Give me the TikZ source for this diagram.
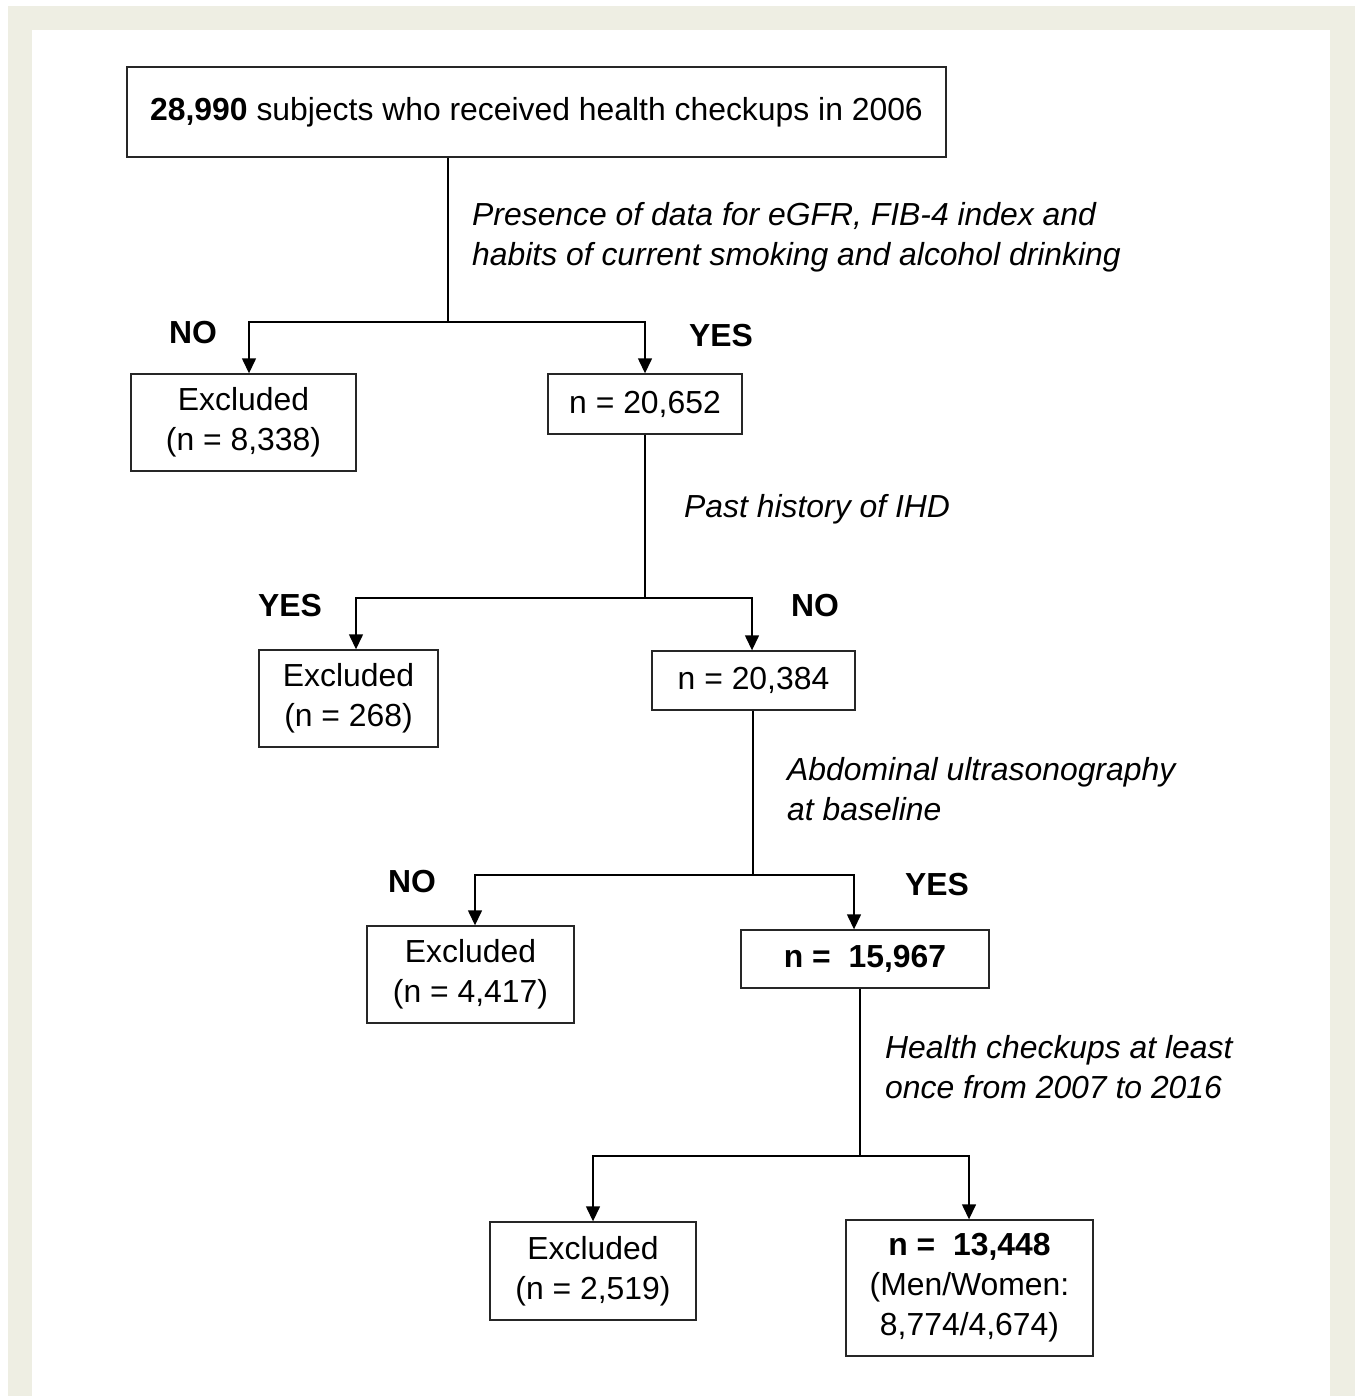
\documentclass[tikz,border=0pt]{standalone}
\usepackage{fontspec}
\setmainfont{Liberation Sans}
\usetikzlibrary{arrows.meta,positioning}
\definecolor{framebeige}{RGB}{238,238,227}
\tikzset{
  box/.style={draw=black!85,line width=1.4bp,align=center,inner sep=0pt},
  flow/.style={line width=1.4bp},
  arrow/.style={flow,-{Triangle[length=15bp,width=14bp]}},
  cond/.style={anchor=west,align=left,inner sep=0pt,font=\itshape},
  answer/.style={inner sep=0pt,font=\bfseries},
}
\begin{document}
\fontsize{32}{40}\selectfont
\begin{tikzpicture}[x=1bp,y=-1bp,line join=miter]
\useasboundingbox (0,0) rectangle (1357,1396);
\fill[framebeige] (8,6) rectangle (1355,1396);
\fill[white] (32,30) rectangle (1330,1396);
%% boxes
\node (all) at (536.5,112) [box,minimum width=819bp,minimum height=90bp] {\textbf{28,990} subjects who received health checkups in 2006};
\node (exc1) at (243.5,422.5) [box,minimum width=225bp,minimum height=97bp] {Excluded\\(n = 8,338)};
\node (n1) at (645,404) [box,minimum width=194bp,minimum height=60bp] {n = 20,652};
\node (exc2) at (348.5,698.5) [box,minimum width=179bp,minimum height=97bp] {Excluded\\(n = 268)};
\node (n2) at (753.5,680.5) [box,minimum width=203bp,minimum height=59bp] {n = 20,384};
\node (exc3) at (470.5,974.5) [box,minimum width=207bp,minimum height=97bp] {Excluded\\(n = 4,417)};
\node (n3) at (865,959) [box,minimum width=248bp,minimum height=58bp] {\textbf{n =\ \ 15,967}};
\node (exc4) at (593,1271) [box,minimum width=206bp,minimum height=98bp] {Excluded\\(n = 2,519)};
\node (final) at (969.5,1288) [box,minimum width=247bp,minimum height=136bp] {\textbf{n =\ \ 13,448}\\(Men/Women:\\8,774/4,674)};
%% conditions
\node (q1) at (472,237) [cond] {Presence of data for eGFR, FIB-4 index and\\habits of current smoking and alcohol drinking};
\node (q2) at (684,509) [cond] {Past history of IHD};
\node (q3) at (787,789) [cond] {Abdominal ultrasonography\\at baseline};
\node (q4) at (885,1067) [cond] {Health checkups at least\\once from 2007 to 2016};
%% answers
\node (no1) at (193,333) [answer] {NO};
\node (yes1) at (721,336) [answer] {YES};
\node (yes2) at (290,606) [answer] {YES};
\node (no2) at (815,606) [answer] {NO};
\node (no3) at (412,882) [answer] {NO};
\node (yes3) at (937,885) [answer] {YES};
%% splits
\coordinate (s1) at (448,322);
\coordinate (s2) at (645,598);
\coordinate (s3) at (753,875);
\coordinate (s4) at (860,1156);
\draw [flow] (all.south -| s1) -- (s1);
\draw [arrow] (s1) -| ([xshift=5.5bp]exc1.north);
\draw [arrow] (s1) -| (n1.north);
\draw [flow] (n1.south) -- (s2);
\draw [arrow] (s2) -| ([xshift=7.5bp]exc2.north);
\draw [arrow] (s2) -| ([xshift=-1.5bp]n2.north);
\draw [flow] (n2.south -| s3) -- (s3);
\draw [arrow] (s3) -| ([xshift=4.5bp]exc3.north);
\draw [arrow] (s3) -| ([xshift=-11bp]n3.north);
\draw [flow] (n3.south -| s4) -- (s4);
\draw [arrow] (s4) -| (exc4.north);
\draw [arrow] (s4) -| ([xshift=-0.5bp]final.north);
%
\end{tikzpicture}
\end{document}
